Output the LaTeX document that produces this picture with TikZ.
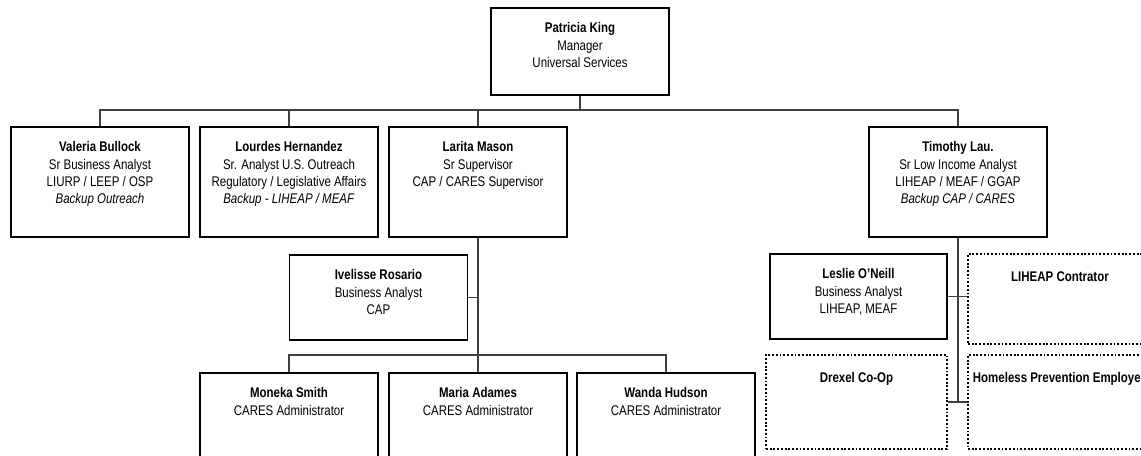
\documentclass[tikz,border=0pt]{standalone}
\usepackage{fontspec}
\setmainfont[FakeStretch=0.82]{Liberation Sans}
\usetikzlibrary{calc}

\begin{document}
\fontsize{10.5}{13}\selectfont
\begin{tikzpicture}[x=0.75pt,y=-0.75pt,
	card/.style={draw,line width=1.2pt,inner sep=0pt,anchor=north,align=flush center,text width=133.5pt,text height=18.75pt},
	hole/.style={card,line width=1.5pt,dash pattern=on 1.4pt off 1.4pt,text height=20.25pt},
	link/.style={line width=0.8pt,black!75}]
							\path[use as bounding box] (0,0) rectangle (1141,456);
							\clip (0,0) rectangle (1141,456);
							\node (king) at (580,7) [card,text depth=46.5pt]{\textbf{Patricia King}\\Manager\\Universal Services};
							\node (valeria) at (100,126) [card,text depth=63.75pt]{\textbf{Valeria Bullock}\\Sr Business Analyst\\LIURP / LEEP / OSP\\\textit{Backup Outreach}};
							\node (lourdes) at (289,126) [card,text depth=63.75pt]{\textbf{Lourdes Hernandez}\\Sr. Analyst U.S. Outreach\\Regulatory / Legislative Affairs\\\textit{Backup - LIHEAP / MEAF}};
							\node (larita) at (478,126) [card,text depth=63.75pt]{\textbf{Larita Mason}\\Sr Supervisor\\CAP / CARES Supervisor};
							\node (timothy) at (958,126) [card,text depth=63.75pt]{\textbf{Timothy Lau.}\\Sr Low Income Analyst\\LIHEAP / MEAF / GGAP\\\textit{Backup CAP / CARES}};
							\node (ivelisse) at (378.5,254) [card,text depth=45pt]{\textbf{Ivelisse Rosario}\\Business Analyst\\CAP};
							\node (moneka) at (289,372) [card,text depth=62.25pt]{\textbf{Moneka Smith}\\CARES Administrator};
							\node (maria) at (478,372) [card,text depth=62.25pt]{\textbf{Maria Adames}\\CARES Administrator};
							\node (wanda) at (666,372) [card,text depth=62.25pt]{\textbf{Wanda Hudson}\\CARES Administrator};
							\node (leslie) at (858.5,253) [card,text width=132.75pt,text depth=45pt]{\textbf{Leslie O'Neill}\\Business Analyst\\LIHEAP, MEAF};
							\node (liheap) at (1060,253) [hole,text width=138pt,text depth=47.25pt]{\textbf{LIHEAP Contrator}};
							\node (drexel) at (856.5,354) [hole,text width=135.75pt,text depth=50.25pt]{\textbf{Drexel Co-Op}};
							\node (homeless) at (1060,354) [hole,text width=138pt,text depth=50.25pt]{\textbf{Homeless Prevention Employee}};
							\coordinate (bus) at (580,110);
							\coordinate (lowbus) at (478,355);
							\draw[link] (king.south)--(bus);
							\draw[link] (valeria.north)--(valeria.north |- bus) -| (timothy.north);
							\draw[link] (lourdes.north)--(lourdes.north |- bus);
							\draw[link] (larita.north)--(larita.north |- bus);
							\draw[link] (larita.south)--(maria.north);
							\draw[link] (ivelisse.east)--(ivelisse.east -| maria.north);
							\draw[link] (moneka.north)--(moneka.north |- lowbus) -| (wanda.north);
							\draw[link] (timothy.south)--(timothy.south |- drexel.east);
							\draw[link] (leslie.east)--(leslie.east -| liheap.west);
							\draw[link] (drexel.east)--(homeless.west);
						\end{tikzpicture}
\end{document}
